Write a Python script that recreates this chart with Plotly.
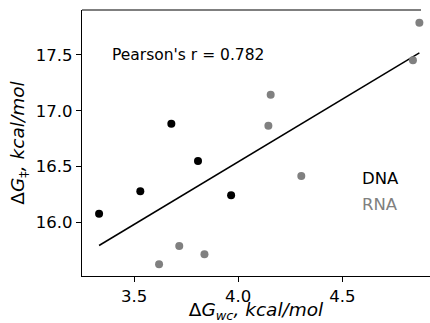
import numpy as np
import plotly.graph_objects as go

# Watson-Crick free energy vs. activation free energy (kcal/mol)
dna_dg_wc = [3.332, 3.530, 3.679, 3.807, 3.966]
dna_dg_ts = [16.08, 16.28, 16.884, 16.55, 16.245]
rna_dg_wc = [3.620, 3.717, 3.838, 4.145, 4.156, 4.303, 4.839, 4.870]
rna_dg_ts = [15.628, 15.79, 15.717, 16.866, 17.142, 16.416, 17.452, 17.786]
x_ticks = [3.5, 4.0, 4.5]
y_ticks = [16.0, 16.5, 17.0, 17.5]
pearson_r = 0.782

# Least-squares fit over both groups
all_x = np.array(dna_dg_wc + rna_dg_wc)
all_y = np.array(dna_dg_ts + rna_dg_ts)
slope, intercept = np.polyfit(all_x, all_y, 1)
fit_x = np.array([all_x.min(), all_x.max()])
fit_y = slope * fit_x + intercept

font = "DejaVu Sans"
fig = go.Figure()
fig.add_trace(go.Scatter(x=fit_x, y=fit_y, mode="lines",
                         line=dict(color="black", width=1.5), showlegend=False))
fig.add_trace(go.Scatter(x=dna_dg_wc, y=dna_dg_ts, mode="markers",
                         marker=dict(color="black", size=8), showlegend=False))
fig.add_trace(go.Scatter(x=rna_dg_wc, y=rna_dg_ts, mode="markers",
                         marker=dict(color="#808080", size=8), showlegend=False))

fig.update_layout(
    width=430, height=323,
    margin=dict(l=82, r=0, t=10, b=47),
    paper_bgcolor="white", plot_bgcolor="white",
    font=dict(family=font, color="black"),
    xaxis=dict(range=[3.25, 4.921], tickvals=x_ticks, ticktext=[f"{v:.1f}" for v in x_ticks],
               showgrid=False, zeroline=False, showline=True, linecolor="black", linewidth=1.2,
               ticks="outside", ticklen=5, tickwidth=1, tickcolor="black",
               tickfont=dict(size=16.5, family=font),
               title=dict(text="Δ<i>G</i><sub><i>wc</i></sub><i>, kcal/mol</i>",
                          font=dict(size=18.5, family=font), standoff=3)),
    yaxis=dict(range=[15.523, 17.90], tickvals=y_ticks, ticktext=[f"{v:.1f}" for v in y_ticks],
               showgrid=False, zeroline=False, showline=True, linecolor="black", linewidth=1.2,
               ticks="outside", ticklen=5, tickwidth=1, tickcolor="black",
               tickfont=dict(size=16.5, family=font),
               title=dict(text="Δ<i>G</i><sub>‡</sub><i>, kcal/mol</i>",
                          font=dict(size=18.5, family=font), standoff=6)),
    shapes=[dict(type="line", xref="paper", yref="paper", x0=0, x1=(421 - 82) / 348,
                 y0=1, y1=1, line=dict(color="black", width=1.2))],
    annotations=[
        dict(text=f"Pearson's r = {pearson_r}", xref="paper", yref="paper",
             x=0.0805, y=0.831, xanchor="left", yanchor="middle", showarrow=False,
             font=dict(size=15.5, family=font, color="black")),
        dict(text="DNA", xref="paper", yref="paper", x=0.799, y=0.368,
             xanchor="left", yanchor="middle", showarrow=False,
             font=dict(size=16.5, family=font, color="black")),
        dict(text="RNA", xref="paper", yref="paper", x=0.799, y=0.267,
             xanchor="left", yanchor="middle", showarrow=False,
             font=dict(size=16.5, family=font, color="#808080")),
    ],
)

fig.write_html("out.html")
